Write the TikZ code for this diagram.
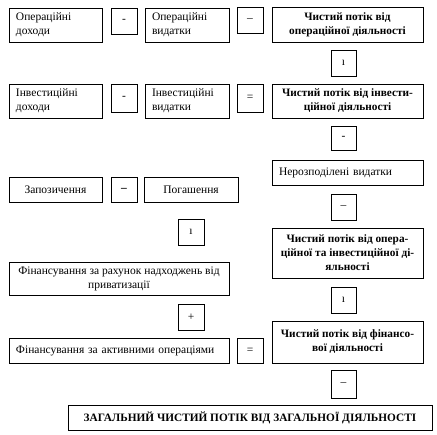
\documentclass[tikz,border=0pt]{standalone}
\usepackage{fontspec}
\setmainfont{Liberation Serif}
\usepackage{tikz}
\usetikzlibrary{positioning}
\tikzset{
  box/.style  ={rectangle, draw=black, line width=0.9pt, inner xsep=7pt, inner ysep=0pt,
                font=\fontsize{11.5}{14}\selectfont},
  lbox/.style ={box, align=left},
  res/.style  ={box, align=center, inner xsep=2pt, font=\fontsize{11.3}{14}\selectfont\bfseries},
  sgn/.style  ={box, inner sep=0pt, minimum width=26pt, minimum height=26pt},
}

\begin{document}
\begin{tikzpicture}[x=1pt,y=-1pt]
  \useasboundingbox (0,0) rectangle (437,435);
  % operating activity
  \node[lbox,text width=79pt,minimum height=34pt] (opinc) at (55.5,25) {Операційні\\доходи};
  \node[sgn] (mopa) at (124,21) {-};
  \node[lbox,text width=70pt,minimum height=34pt] (opexp) at (187,25) {Операційні\\видатки};
  \node[sgn] (mopb) at (250,20.5) {–};
  \node[res,minimum width=151pt,minimum height=35pt] (opnet) at (347.5,24.5) {Чистий потік від\\операційної діяльності};
  \node[sgn,minimum width=25pt] (popa) at (343.5,63) {ı};
  % investing activity
  \node[lbox,text width=79pt,minimum height=34pt] (invinc) at (55.5,101) {Інвестиційні\\доходи};
  \node[sgn,minimum height=28pt] (minva) at (124,98) {-};
  \node[lbox,text width=70pt,minimum height=34pt] (invexp) at (187,101) {Інвестиційні\\видатки};
  \node[sgn,minimum height=28pt] (eqinv) at (250,98) {=};
  \node[res,minimum width=151pt,minimum height=34pt] (invnet) at (347.5,101) {Чистий потік від інвести-\\ційної діяльності};
  \node[sgn,minimum width=25pt,minimum height=24pt] (minvb) at (343.5,138) {-};
  % unallocated costs
  \node[lbox,text width=137pt,minimum height=25pt] (unalloc) at (347.5,172.5) {Нерозподілені видатки};
  \node[sgn,minimum width=25pt] (mun) at (343.5,207) {–};
  \node[res,minimum width=151pt,minimum height=50pt] (opinvnet) at (347.5,253) {Чистий потік від опера-\\ційної та інвестиційної ді-\\яльності};
  \node[sgn,minimum width=25pt] (popb) at (343.5,300) {ı};
  % financing activity
  \node[box,minimum width=93pt,minimum height=25pt] (borrow) at (55.5,189.5) {Запозичення};
  \node[sgn,minimum height=25pt] (mfin) at (124,189.5) {\raisebox{-3pt}{\bfseries –}};
  \node[box,minimum width=94pt,minimum height=25pt] (repay) at (191,189.5) {Погашення};
  \node[sgn] (pfina) at (191,232) {ı};
  \node[box,align=center,inner xsep=2pt,minimum width=220pt,minimum height=33pt] (privat) at (119,278.5) {Фінансування за рахунок надходжень від\\приватизації};
  \node[sgn] (pfinb) at (191,317) {+};
  \node[lbox,text width=206pt,minimum height=25pt] (active) at (119,350.5) {Фінансування за активними операціями};
  \node[sgn,minimum height=25pt] (eqfin) at (250,350.5) {=};
  \node[res,minimum width=151pt,minimum height=42pt] (finnet) at (347.5,342) {Чистий потік від фінансо-\\вої діяльності};
  \node[sgn,minimum width=25pt,minimum height=28pt] (mfinb) at (343.5,384) {–};
  % total
  \node[res,minimum width=364pt,minimum height=25pt] (total) at (250,417.5) {ЗАГАЛЬНИЙ ЧИСТИЙ ПОТІК ВІД ЗАГАЛЬНОЇ ДІЯЛЬНОСТІ};
\end{tikzpicture}
\end{document}
